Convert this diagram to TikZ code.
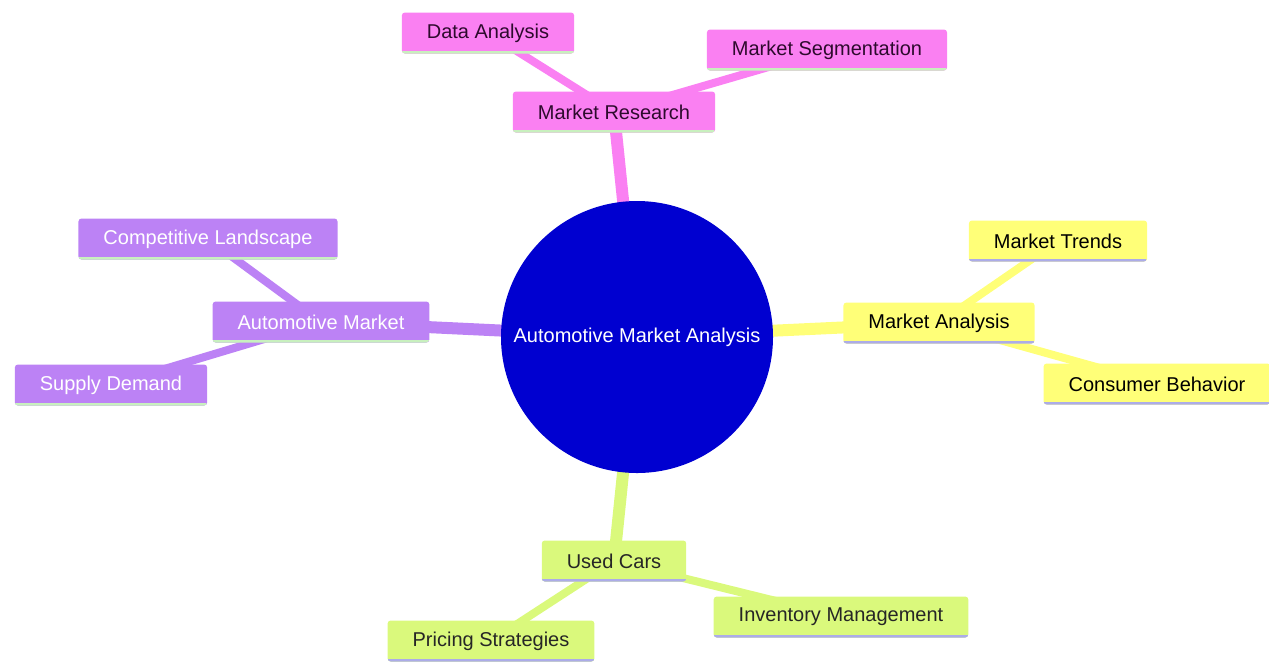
\documentclass[tikz,border=0pt]{standalone}
\usepackage{fontspec}
\setmainfont{Liberation Sans}
\usetikzlibrary{backgrounds}
\definecolor{rootblue}{RGB}{0,0,208}
\definecolor{mpink}{RGB}{250,128,242}
\definecolor{mpurple}{RGB}{188,130,245}
\definecolor{myellow}{RGB}{255,255,120}
\definecolor{mgreen}{RGB}{218,249,124}
\definecolor{lgreen}{RGB}{200,240,190}
\definecolor{lviolet}{RGB}{172,172,232}
\definecolor{darktext}{RGB}{45,10,45}
\tikzset{footline/.style={path picture={\draw[#1, line width=3pt] (path picture bounding box.south west) -- (path picture bounding box.south east);}}}
\tikzstyle{Idea}=[rectangle, rounded corners=1.5pt, inner xsep=12.5pt, inner ysep=0pt, minimum height=20.5pt, font=\fontsize{10}{12}\selectfont]
\tikzstyle{PinkIdea}=[Idea, fill=mpink, text=darktext, footline=lgreen]
\tikzstyle{PurpleIdea}=[Idea, fill=mpurple, text=white, footline=lgreen]
\tikzstyle{YellowIdea}=[Idea, fill=myellow, text=black, footline=lviolet]
\tikzstyle{GreenIdea}=[Idea, fill=mgreen, text=black!85, footline=lviolet]
\tikzstyle{Trunk}=[line width=6pt]
\tikzstyle{Twig}=[line width=4pt]

\begin{document}
\begin{tikzpicture}[x=0.5pt, y=-0.5pt]
    \useasboundingbox (0,0) rectangle (1269,661);
    \path
    (637,337) node[circle, fill=rootblue, text=white, minimum size=136pt, inner sep=0pt, font=\fontsize{10}{12}\selectfont] (root) {Automotive Market Analysis}
    (614,112) node[PinkIdea] (research) {Market Research}
    (488,33) node[PinkIdea] (data) {Data Analysis}
    (827,50) node[PinkIdea] (segment) {Market Segmentation}
    (939,323) node[YellowIdea] (analysis) {Market Analysis}
    (1058,241) node[YellowIdea] (trends) {Market Trends}
    (1157,384) node[YellowIdea] (consumer) {Consumer Behavior}
    (614,561) node[GreenIdea] (used) {Used Cars}
    (491,641) node[GreenIdea] (pricing) {Pricing Strategies}
    (841,617) node[GreenIdea] (inventory) {Inventory Management}
    (321,322) node[PurpleIdea] (auto) {Automotive Market}
    (208,239) node[PurpleIdea] (compet) {Competitive Landscape}
    (111,385) node[PurpleIdea] (supply) {Supply Demand};

    \begin{pgfonlayer}{background}
    \draw[Trunk, mpink] (root.center) -- (research.center);
    \draw[Trunk, myellow] (root.center) -- (analysis.center);
    \draw[Trunk, mgreen] (root.center) -- (used.center);
    \draw[Trunk, mpurple] (root.center) -- (auto.center);
    \draw[Twig, mpink] (data.center) -- (research.center) -- (segment.center);
    \draw[Twig, myellow] (trends.center) -- (analysis.center) -- (consumer.center);
    \draw[Twig, mgreen] (pricing.center) -- (used.center) -- (inventory.center);
    \draw[Twig, mpurple] (compet.center) -- (auto.center) -- (supply.center);
    \end{pgfonlayer}
\end{tikzpicture}
\end{document}
